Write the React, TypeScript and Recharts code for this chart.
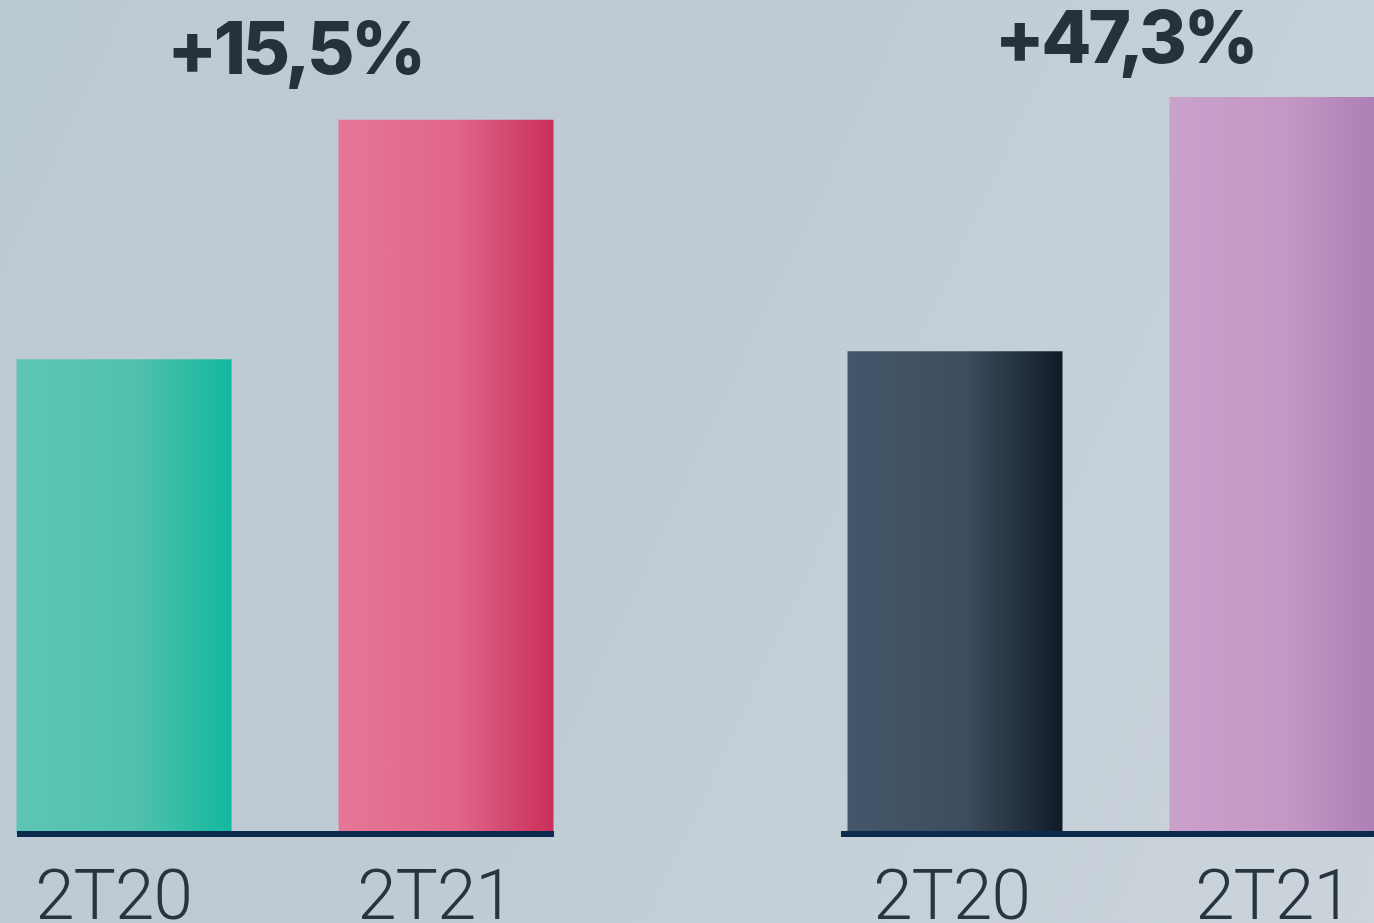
import React from 'react';
import { BarChart, Bar, XAxis, YAxis, Cell } from 'recharts';

// periods on each x-axis
const periods = ['2T20', '2T21'];
// bar heights, indexed (tallest bar = 100)
const leftValues = [64.4, 96.9];
const rightValues = [65.5, 100];
// growth headline over each group
const growthLabels = ['+15,5%', '+47,3%'];

const gradients: Record<string, [string, string, string]> = {
  teal: ['#5ec5b5', '#52c1ae', '#12b99f'],
  pink: ['#e67697', '#e0668a', '#c92f59'],
  slate: ['#44576a', '#3d4d5e', '#101b27'],
  lilac: ['#c9a1cb', '#c398c4', '#ab7db4'],
};

const PeriodTick = ({ x, y, payload, dx }: any) => (
  <text
    x={x + dx}
    y={y + 85}
    textAnchor="middle"
    fontFamily="Roboto"
    fontWeight={300}
    fontSize={71}
    letterSpacing={-1}
    fill="#28343e"
  >
    {periods[payload.value]}
  </text>
);

interface GroupProps {
  values: number[];
  colors: string[];
  domain: [number, number];
  left: number;
  width: number;
  marginLeft: number;
  tickDx: number;
  id: string;
}

const Group: React.FC<GroupProps> = ({ values, colors, domain, left, width, marginLeft, tickDx, id }) => {
  const data = periods.map((p, i) => ({ period: p, pos: i, value: values[i] }));
  return (
    <div style={{ position: 'absolute', left, top: 0 }}>
      <BarChart width={width} height={923} data={data} margin={{ top: 97, right: 0, bottom: 0, left: marginLeft }}>
        <defs>
          {colors.map((c) => (
            <linearGradient key={c} id={`${id}-${c}`} x1="0" y1="0" x2="1" y2="0">
              <stop offset="0%" stopColor={gradients[c][0]} />
              <stop offset="55%" stopColor={gradients[c][1]} />
              <stop offset="100%" stopColor={gradients[c][2]} />
            </linearGradient>
          ))}
        </defs>
        <YAxis hide domain={[0, 100]} />
        <Bar dataKey="value" barSize={215} isAnimationActive={false}>
          {data.map((d, i) => (
            <Cell key={d.period} fill={`url(#${id}-${colors[i]})`} />
          ))}
        </Bar>
        <XAxis
          dataKey="pos"
          type="number"
          domain={domain}
          ticks={[0, 1]}
          height={89}
          tickLine={false}
          tickSize={0}
          tickMargin={0}
          axisLine={{ stroke: '#0b2a4c', strokeWidth: 6 }}
          tick={<PeriodTick dx={tickDx} />}
        />
      </BarChart>
    </div>
  );
};

export default function App() {
  return (
    <div
      style={{
        position: 'fixed',
        left: 0,
        top: 0,
        width: 1374,
        height: 923,
        overflow: 'hidden',
        background: 'linear-gradient(115deg, #bccad3 0%, #bfcbd4 45%, #c6d0d8 75%, #cbd4db 100%)',
      }}
    >
      <Group
        id="a"
        values={leftValues}
        colors={['teal', 'pink']}
        domain={[-0.3339, 1.3339]}
        left={0}
        width={554}
        marginLeft={17}
        tickDx={-11}
      />
      <Group
        id="b"
        values={rightValues}
        colors={['slate', 'lilac']}
        domain={[-0.3525, 1.3835]}
        left={841}
        width={559}
        marginLeft={0}
        tickDx={-3}
      />
      <svg width={1374} height={120} style={{ position: 'absolute', left: 0, top: 0 }}>
        {growthLabels.map((g, i) => (
          <text
            key={g}
            x={i === 0 ? 295 : 1125}
            y={i === 0 ? 74 : 63}
            textAnchor="middle"
            fontFamily="Inter"
            fontWeight={800}
            fontSize={73}
            letterSpacing={-3.5}
            fill="#26323b"
          >
            {g}
          </text>
        ))}
      </svg>
    </div>
  );
}
